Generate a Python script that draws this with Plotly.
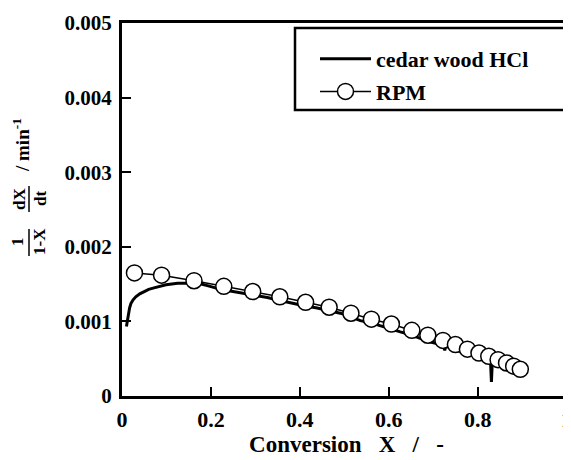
import plotly.graph_objects as go

# ---- data ----
cedar_x = [0.010, 0.012, 0.014, 0.017, 0.020, 0.025, 0.031, 0.040, 0.050, 0.060,
           0.072, 0.085, 0.099, 0.112, 0.125, 0.145, 0.162, 0.178, 0.192, 0.207,
           0.222, 0.240, 0.259, 0.290, 0.327, 0.355, 0.383, 0.410, 0.439, 0.465,
           0.491, 0.515, 0.536, 0.560, 0.581, 0.605, 0.626, 0.650, 0.670, 0.690,
           0.710, 0.724, 0.726, 0.728, 0.738, 0.750, 0.770, 0.790, 0.810, 0.829,
           0.831, 0.833, 0.850, 0.865, 0.880, 0.895, 0.900]
cedar_y = [0.00093, 0.00100, 0.00111, 0.00118, 0.00124, 0.00129, 0.00133, 0.00137, 0.00140, 0.00143,
           0.00145, 0.00147, 0.00149, 0.00150, 0.00151, 0.00151, 0.00151, 0.00150, 0.00148, 0.00145,
           0.00143, 0.00141, 0.00139, 0.00136, 0.00132, 0.00128, 0.00124, 0.00121, 0.00118, 0.00115,
           0.00111, 0.00106, 0.00101, 0.00098, 0.00094, 0.00090, 0.00086, 0.00082, 0.00077, 0.00073,
           0.00070, 0.00067, 0.00061, 0.00067, 0.00065, 0.00062, 0.00058, 0.00054, 0.00050, 0.00046,
           0.00019, 0.00046, 0.00042, 0.00039, 0.00036, 0.00033, 0.00032]

rpm_x = [0.028, 0.089, 0.162, 0.229, 0.294, 0.355, 0.413, 0.466, 0.515, 0.561, 0.606,
         0.652, 0.688, 0.722, 0.750, 0.777, 0.803, 0.825, 0.846, 0.865, 0.881, 0.896]
rpm_y = [0.00165, 0.00162, 0.001545, 0.00147, 0.00140, 0.00133, 0.001256, 0.00119, 0.00111,
         0.00103, 0.000965, 0.00088, 0.000815, 0.000745, 0.00069, 0.000628, 0.000576,
         0.000532, 0.000487, 0.000443, 0.00040, 0.000358]

x_ticks = [0, 0.2, 0.4, 0.6, 0.8, 1]
x_tick_text = ["0", "0.2", "0.4", "0.6", "0.8", "1"]
y_ticks = [0, 0.001, 0.002, 0.003, 0.004, 0.005]
y_tick_text = ["0", "0.001", "0.002", "0.003", "0.004", "0.005"]

series_names = ["cedar wood HCl", "RPM"]
x_title = "Conversion\u00a0\u00a0 X\u00a0\u00a0 /\u00a0\u00a0 -"

FONT = "Liberation Serif, Times New Roman, serif"

fig = go.Figure()
fig.add_trace(go.Scatter(
    x=cedar_x, y=cedar_y, mode="lines", name=series_names[0],
    line=dict(color="black", width=3), legendgroup="a"))
fig.add_trace(go.Scatter(
    x=rpm_x, y=rpm_y, mode="lines+markers", name=series_names[1],
    line=dict(color="black", width=1.5),
    marker=dict(symbol="circle", size=16, color="white",
                line=dict(color="black", width=1.5)),
    legendgroup="b"))

# The page body has an 8px default margin, so the figure is shifted by 8px.
OFF = 8
W, H = 571 - OFF, 460 - OFF
L, R, T, B = 122 - OFF, 0, 23 - OFF, 64
pw, ph = W - L - R, H - T - B


def px(xp):
    return (xp - OFF - L) / pw


def py(yp):
    return (H - B - (yp - OFF)) / ph


fig.update_layout(
    width=W, height=H,
    margin=dict(l=L, r=R, t=T, b=B, pad=0),
    paper_bgcolor="white", plot_bgcolor="white",
    font=dict(family=FONT, color="black", size=20, weight="bold"),
    showlegend=True,
    legend=dict(
        x=px(315), y=py(38), xanchor="left", yanchor="top",
        bgcolor="rgba(0,0,0,0)", borderwidth=0,
        font=dict(family=FONT, size=22, color="black", weight="bold"),
        tracegroupgap=1, itemwidth=51,
    ),
    xaxis=dict(
        range=[0, 1.01], tickvals=x_ticks, ticktext=x_tick_text,
        showgrid=False, zeroline=False,
        showline=True, linecolor="black", linewidth=3, mirror=True,
        ticks="inside", ticklen=9, tickwidth=2, tickcolor="black",
        tickfont=dict(family=FONT, size=22, color="black", weight="bold"),
        ticklabeloverflow="allow", ticklabelstandoff=2,
        title=dict(text=x_title, standoff=2,
                   font=dict(family=FONT, size=23, color="black", weight="bold")),
        automargin=False,
    ),
    yaxis=dict(
        range=[0, 0.005], tickvals=y_ticks, ticktext=y_tick_text,
        showgrid=False, zeroline=False,
        showline=True, linecolor="black", linewidth=3, mirror=False,
        ticks="inside", ticklen=9, tickwidth=2, tickcolor="black",
        tickfont=dict(family=FONT, size=21, color="black", weight="bold"),
        ticklabelstandoff=3,
        automargin=False,
    ),
)

# legend frame
fig.add_shape(type="rect", xref="paper", yref="paper",
              x0=px(295), x1=px(568), y0=py(110), y1=py(28),
              line=dict(color="black", width=2.5), fillcolor="rgba(0,0,0,0)",
              layer="above")

# y-axis title built as a rotated fraction:  1/(1-X) · dX/dt / min^-1
afont = dict(family=FONT, size=17, color="black", weight="bold")
for txt, xx, yy, fs in [("1", 18, 242, 17), ("1-X", 40, 242, 17), ("dX", 19, 199, 17),
                        ("dt", 40, 199, 17), ("/&nbsp;min<sup>-1</sup>", 21, 145, 19)]:
    fig.add_annotation(text=txt, xref="paper", yref="paper", x=px(xx), y=py(yy),
                       xanchor="center", yanchor="middle", textangle=-90,
                       showarrow=False, font=dict(afont, size=fs))
for y0, y1 in [(229, 256), (186, 212)]:
    fig.add_shape(type="line", xref="paper", yref="paper",
                  x0=px(29), x1=px(29), y0=py(y0), y1=py(y1),
                  line=dict(color="black", width=1.5))

fig.write_html("out.html")
